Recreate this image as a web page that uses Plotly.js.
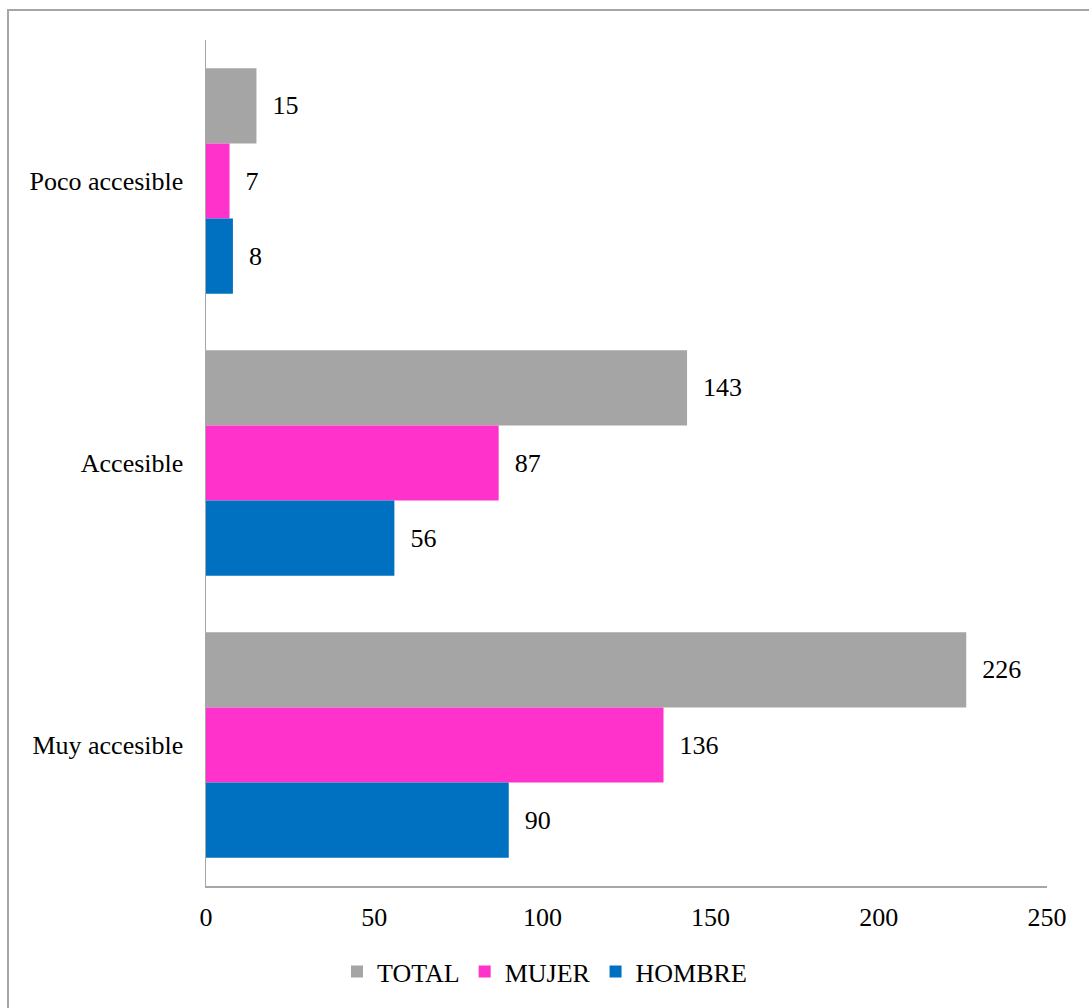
<!DOCTYPE html>
<html>
<head>
<meta charset="utf-8">
<script src="https://cdn.plot.ly/plotly-3.0.1.min.js"></script>
<style>
  html, body { margin: 0; padding: 0; background: #fff; }
  #frame { position: absolute; left: 7px; top: 9px; width: 1100px; height: 1100px;
           border-left: 2px solid #a6a6a6; border-top: 2px solid #a6a6a6; box-sizing: border-box; }
  #chart { position: absolute; left: 0; top: 0; width: 1089px; height: 1008px; }
</style>
</head>
<body>
<div id="frame"></div>
<div id="chart"></div>
<script>
const categories = ["Poco accesible", "Accesible", "Muy accesible"];
const seriesNames = ["TOTAL", "MUJER", "HOMBRE"];
const totalValues = [15, 143, 226];
const mujerValues = [7, 87, 136];
const hombreValues = [8, 56, 90];
const xTicks = [0, 50, 100, 150, 200, 250];

const colors = ["#a5a5a5", "#ff33cc", "#0070c0"];
const values = [totalValues, mujerValues, hombreValues];
const fontFamily = "Liberation Serif";

const traces = seriesNames.map((name, i) => ({
  type: "bar",
  orientation: "h",
  name: name,
  y: categories,
  x: values[i],
  marker: { color: colors[i] },
  text: values[i].map(String),
  texttemplate: "\u00a0\u00a0%{text}",
  textposition: "outside",
  cliponaxis: false,
  textfont: { family: fontFamily, size: 26, color: "#000" },
  hoverinfo: "x+name"
}));

const layout = {
  width: 1089,
  height: 1008,
  paper_bgcolor: "rgba(0,0,0,0)",
  plot_bgcolor: "rgba(0,0,0,0)",
  margin: { l: 206, r: 42, t: 40, b: 122, pad: 0 },
  barmode: "group",
  bargap: 0.2,
  bargroupgap: 0,
  font: { family: fontFamily, size: 26, color: "#000" },
  xaxis: {
    range: [0, 250],
    tickvals: xTicks,
    ticktext: xTicks.map(String),
    showgrid: false,
    zeroline: false,
    showline: true,
    linecolor: "#a6a6a6",
    linewidth: 1.5,
    ticks: "",
    ticklabelstandoff: 7,
    tickfont: { family: fontFamily, size: 26, color: "#000" },
    fixedrange: true
  },
  yaxis: {
    autorange: "reversed",
    showgrid: false,
    zeroline: false,
    showline: true,
    linecolor: "#a6a6a6",
    linewidth: 1.5,
    ticks: "",
    ticklabelstandoff: 16,
    tickfont: { family: fontFamily, size: 26, color: "#000" },
    fixedrange: true
  },
  showlegend: true,
  legend: {
    orientation: "h",
    x: 0.5,
    xanchor: "center",
    xref: "container",
    y: 0.036,
    yref: "container",
    yanchor: "middle",
    font: { family: fontFamily, size: 26, color: "#000" },
    traceorder: "normal",
    itemwidth: 30,
    bgcolor: "rgba(0,0,0,0)"
  }
};

Plotly.newPlot("chart", traces, layout, { displayModeBar: false, staticPlot: true });
</script>
</body>
</html>
